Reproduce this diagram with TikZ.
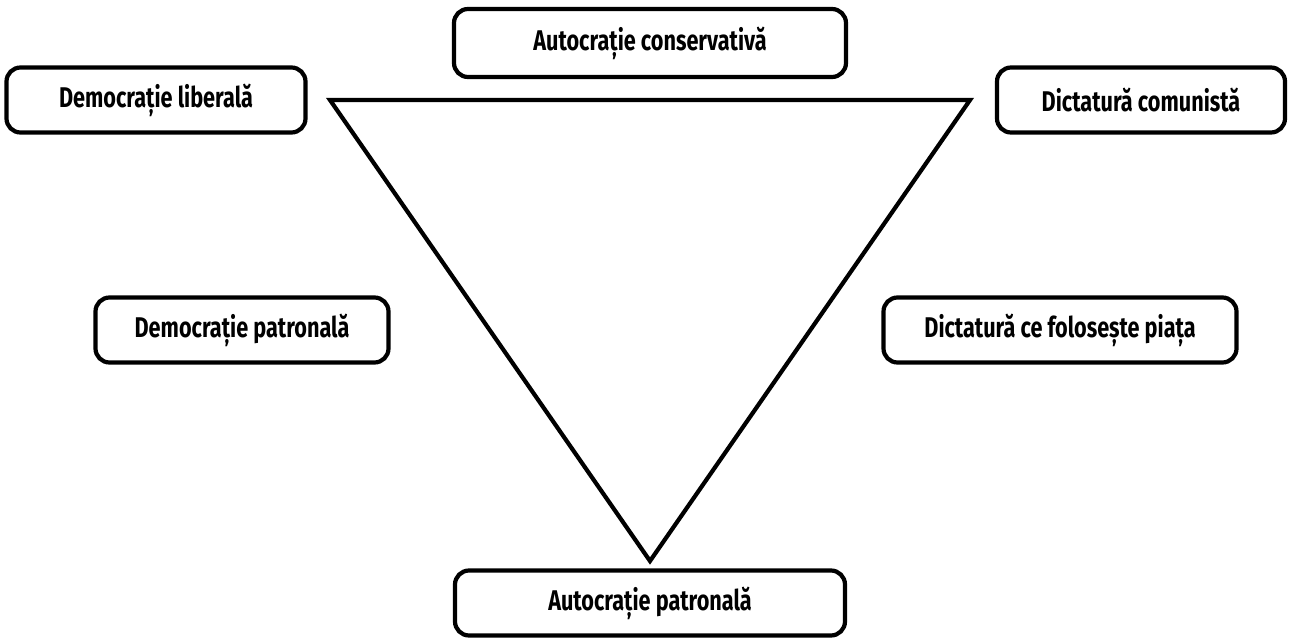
\documentclass[tikz,border=0pt]{standalone}
\usepackage{fontspec}
\setmainfont{Fira Sans}[FakeStretch=0.76]
\usetikzlibrary{calc}
\tikzset{regime/.style={draw, line width=4.2pt, rounded corners=14pt, font=\fontsize{28.5}{32}\selectfont\bfseries, inner sep=0pt, align=center}}

\begin{document}
\begin{tikzpicture}[x=1pt, y=-1pt]
			%%%%% START %%%%%
			\useasboundingbox (0, 0) rectangle (1293, 640);
			
			\node[regime, minimum width=392, minimum height=68] (autocons) at (650, 43) {Autocrație conservativă};
			\node[regime, minimum width=299, minimum height=65] (demlib) at (156, 100) {Democrație liberală};
			\node[regime, minimum width=288, minimum height=65] (dictcom) at (1141, 100) {Dictatură comunistă};
			\node[regime, minimum width=293, minimum height=65] (dempat) at (242, 330) {Democrație patronală};
			\node[regime, minimum width=353, minimum height=65] (dictpiata) at (1060, 330) {Dictatură ce folosește piața};
			\node[regime, minimum width=390, minimum height=65] (autopat) at (650, 603) {Autocrație patronală};
			
			\draw[line width=4.2pt, line join=miter] (330, 100) -- (970, 100) -- (650, 561) -- cycle;
			
			%%%%% END %%%%%
		\end{tikzpicture}
\end{document}
